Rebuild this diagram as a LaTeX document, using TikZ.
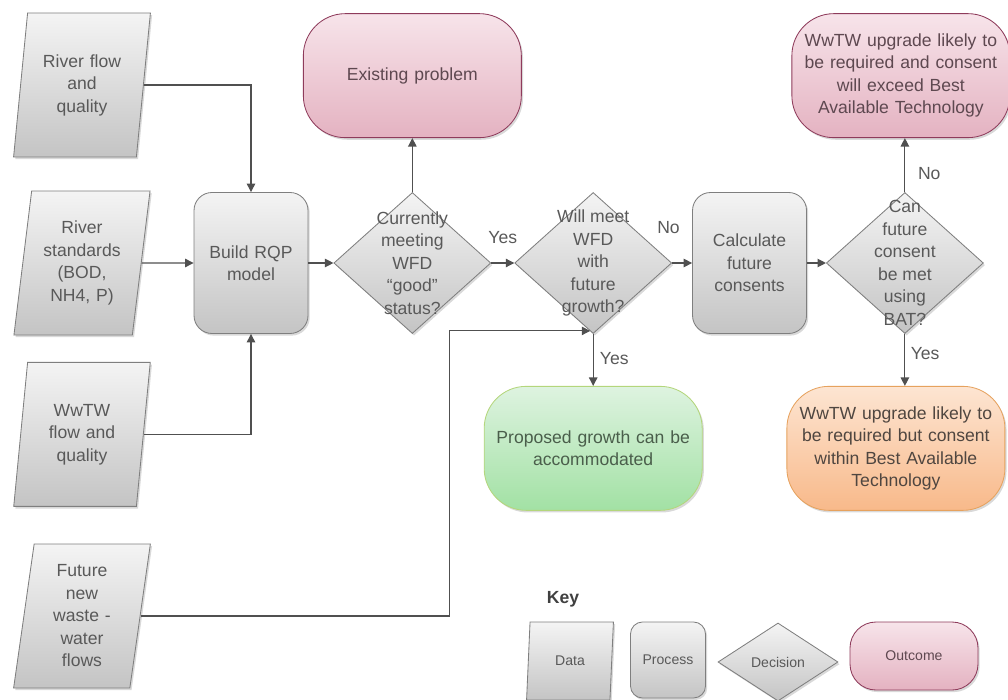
\documentclass[tikz,border=0pt]{standalone}
\usepackage{fontspec}
\setmainfont{Liberation Sans}
\usetikzlibrary{positioning, arrows.meta, shapes.geometric, shadows}

\definecolor{boxline}{HTML}{7F7F7F}
\definecolor{greytop}{HTML}{F4F4F4}
\definecolor{greybot}{HTML}{C4C4C4}
\definecolor{txtgrey}{HTML}{595959}
\definecolor{arrgrey}{HTML}{505050}
\definecolor{pinktop}{HTML}{F7E4EA}
\definecolor{pinkbot}{HTML}{E4B2C1}
\definecolor{pinkline}{HTML}{8E3B5B}
\definecolor{pinktxt}{HTML}{5E4850}
\definecolor{greentop}{HTML}{DEF3E0}
\definecolor{greenbot}{HTML}{A2E1A4}
\definecolor{greenline}{HTML}{B4D67C}
\definecolor{greentxt}{HTML}{4A5E4B}
\definecolor{orangetop}{HTML}{FDE5D2}
\definecolor{orangebot}{HTML}{F8B98A}
\definecolor{orangeline}{HTML}{E6A25E}
\definecolor{orangetxt}{HTML}{4F4640}

\begin{document}
\begin{tikzpicture}[
  font=\fontsize{12.5}{16}\selectfont,
  shapebase/.style={
    draw=boxline, line width=0.6pt,
    top color=greytop, bottom color=greybot, text=txtgrey,
    drop shadow={shadow xshift=1.2pt, shadow yshift=-1.5pt, opacity=0.3}
  },
  data/.style={
    shapebase, trapezium, trapezium left angle=80, trapezium right angle=100,
    trapezium stretches=true,
    minimum width=3.425cm, minimum height=3.6cm,
    text width=2.1cm, align=center, inner sep=0pt
  },
  process/.style={
    shapebase, rectangle, rounded corners=0.45cm,
    minimum width=2.85cm, minimum height=3.525cm,
    text width=2.5cm, align=center, inner sep=0pt
  },
  decision/.style={
    shapebase, diamond,
    minimum width=3.925cm, minimum height=3.525cm, inner sep=0pt
  },
  dectext/.style={
    align=center, text=txtgrey, inner sep=0pt
  },
  outcome/.style={
    shapebase, rectangle, rounded corners=1.05cm,
    draw=pinkline, top color=pinktop, bottom color=pinkbot, text=pinktxt,
    minimum width=5.45cm, minimum height=3.1cm,
    text width=5.2cm, align=center, inner sep=0pt
  },
  good/.style={
    draw=greenline, top color=greentop, bottom color=greenbot, text=greentxt
  },
  warn/.style={
    draw=orangeline, top color=orangetop, bottom color=orangebot, text=orangetxt
  },
  arr/.style={
    -{Triangle[length=6pt, width=6pt]}, line width=0.8pt, color=arrgrey
  },
  lbl/.style={
    text=txtgrey, inner sep=1pt
  },
  keyfont/.style={
    font=\fontsize{10}{12}\selectfont
  }
]
\useasboundingbox (0,0) rectangle (25.2,-17.5);

% ================= Data inputs =================
\node[data] (RiverFlow) at (2.05,-2.125) {River flow\\and\\quality};
\node[data] (RiverStd) at (2.05,-6.575) {River\\standards\\(BOD,\\NH4, P)};
\node[data] (WwTWFlow) at (2.05,-10.86) {WwTW\\flow and\\quality};
\node[data] (FutureFlow) at (2.05,-15.4) {Future\\new\\waste -\\water\\flows};

% ================= Main row =================
\node[process] (BuildRQP) at (6.275,-6.575) {Build RQP\\model};
\node[decision, right=0.625cm of BuildRQP,
  label={[dectext]center:Currently\\meeting\\WFD\\“good”\\status?}] (DecStatus) {};
\node[decision, right=0.575cm of DecStatus,
  label={[dectext]center:Will meet\\WFD\\with\\future\\growth?}] (DecGrowth) {};
\node[process, right=0.5cm of DecGrowth] (CalcCons) {Calculate\\future\\consents};
\node[decision, right=0.475cm of CalcCons,
  label={[dectext]center:Can\\future\\consent\\be met\\using\\BAT?}] (DecBAT) {};

% ================= Outcomes =================
\node[outcome, above=1.35cm of DecStatus] (Existing) {Existing problem};
\node[outcome, above=1.35cm of DecBAT, xshift=-0.1cm] (Exceed)
  {WwTW upgrade likely to\\be required and consent\\will exceed Best\\Available Technology};
\node[outcome, good, below=1.3cm of DecGrowth] (Accomm)
  {Proposed growth can be\\accommodated};
\node[outcome, warn, below=1.3cm of DecBAT, xshift=-0.225cm] (Within)
  {WwTW upgrade likely to\\be required but consent\\within Best Available\\Technology};

% ================= Connections =================
\draw[arr] (RiverFlow.east) -| (BuildRQP.north);
\draw[arr] (RiverStd.east) -- (BuildRQP.west);
\draw[arr] (WwTWFlow.east) -| (BuildRQP.south);
\draw[arr] (BuildRQP.east) -- (DecStatus.west);

\draw[arr] (DecStatus.north) -- (Existing.south);
\draw[arr] (DecStatus.east) -- node[lbl, above=0.43cm] {Yes} (DecGrowth.west);

\draw[arr] (DecGrowth.east) -- node[lbl, above=0.68cm, xshift=-0.34cm] {No} (CalcCons.west);
\draw[arr] (DecGrowth.south) -- node[lbl, right=0.12cm, pos=0.48] {Yes} (Accomm.north);

\draw[arr] (CalcCons.east) -- (DecBAT.west);
\draw[arr] (DecBAT.north) -- node[lbl, right=0.28cm, pos=0.35] {No} (DecBAT.north |- Exceed.south);
\draw[arr] (DecBAT.south) -- node[lbl, right=0.1cm, pos=0.38] {Yes} (DecBAT.south |- Within.north);

\coordinate (growthIn) at ([xshift=-0.075cm, yshift=0.075cm]DecGrowth.south);
\draw[arr] (FutureFlow.east) -| ([xshift=-3.525cm]growthIn) -- (growthIn);

% ================= Key =================
\begin{scope}[keyfont]
  \node[font=\fontsize{12.5}{15}\selectfont\bfseries, text=black!75] (KeyTitle) at (14.075,-14.97) {Key};
  \node[data, minimum width=2.175cm, minimum height=1.95cm,
    trapezium left angle=78, trapezium right angle=102, text width=1.2cm] (KeyData) at (14.25,-16.525) {Data};
  \node[process, minimum width=1.875cm, minimum height=1.9cm,
    rounded corners=0.3cm, text width=1.6cm] (KeyProc) at (16.7,-16.5) {Process};
  \node[decision, minimum width=3cm, minimum height=1.95cm,
    label={[dectext]center:Decision}] (KeyDec) at (19.45,-16.55) {};
  \node[outcome, minimum width=3.2cm, minimum height=1.7cm,
    rounded corners=0.65cm, text width=2.8cm] (KeyOut) at (22.85,-16.4) {Outcome};
\end{scope}

\end{tikzpicture}
\end{document}
